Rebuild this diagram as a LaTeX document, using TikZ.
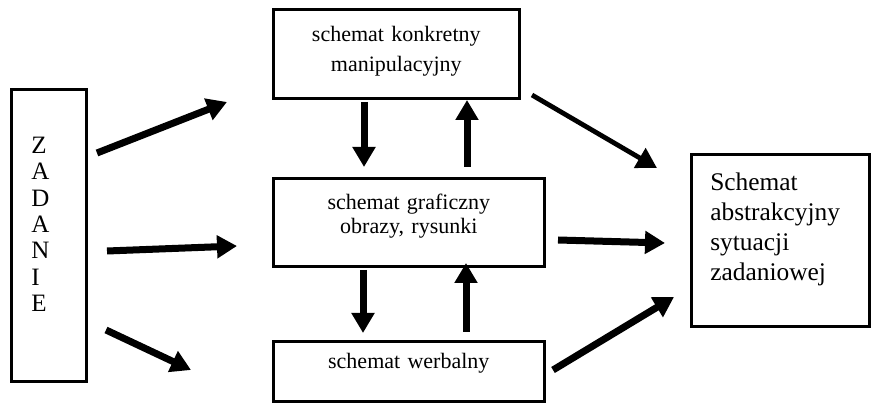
\documentclass[tikz,border=0pt]{standalone}
\usepackage{fontspec}
\setmainfont{Liberation Serif}
\usetikzlibrary{arrows.meta,positioning}

\begin{document}
\begin{tikzpicture}[x=0.5pt, y=-0.5pt,
  box/.style={draw, line width=1.3pt, inner sep=0pt, anchor=north west},
  arr/.style={line width=3.5pt, -{Triangle[width=11pt,length=10pt]}},
  thinarr/.style={line width=2.4pt, -{Triangle[width=11pt,length=10pt]}}]

\useasboundingbox (0,0) rectangle (877,405);

% Task
\node[box, align=left, text width=17.5pt, inner xsep=10pt, text height=32pt, text depth=114pt, font=\fontsize{12.5}{13.2}\selectfont] (zad) at (10,88) {Z\\A\\D\\A\\N\\I\\E};

% Schemes
\node[box, align=center, text width=123pt, text height=16pt, text depth=28.5pt, font=\fontsize{11}{15}\selectfont] (konk) at (272,8) {schemat konkretny\\manipulacyjny};
\node[box, align=center, text width=135.5pt, text height=15.5pt, text depth=28.5pt, font=\fontsize{11}{12}\selectfont] (graf) at (272,177) {schemat graficzny\\obrazy, rysunki};
\node[box, align=center, text width=135.5pt, text height=13.5pt, text depth=16.5pt, font=\fontsize{11}{13}\selectfont] (werb) at (272,340) {schemat werbalny};

% Result
\node[box, align=left, text width=70pt, inner xsep=9.5pt, text height=18pt, text depth=68pt, font=\fontsize{12.7}{15}\selectfont] (abs) at (690,153) {Schemat\\abstrakcyjny\\sytuacji\\zadaniowej};

% Arrow ends
\coordinate (zk-s) at (97,153);  \coordinate (zk-e) at (227,102);
\coordinate (zg-s) at (107,251); \coordinate (zg-e) at (237,246);
\coordinate (zw-s) at (106,330); \coordinate (zw-e) at (191,370);
\coordinate (kg-s) at (364,102); \coordinate (kg-e) at (364,167);
\coordinate (gk-s) at (467,167); \coordinate (gk-e) at (467,100);
\coordinate (gw-s) at (363,270); \coordinate (gw-e) at (363,333);
\coordinate (wg-s) at (466,332); \coordinate (wg-e) at (466,263);
\coordinate (ka-s) at (532,95);  \coordinate (ka-e) at (657,168);
\coordinate (ga-s) at (558,240); \coordinate (ga-e) at (665,243);
\coordinate (wa-s) at (553,370); \coordinate (wa-e) at (674,297);

% Arrows
\draw[arr] (zk-s) -- (zk-e);
\draw[arr] (zg-s) -- (zg-e);
\draw[arr] (zw-s) -- (zw-e);
\draw[arr] (kg-s) -- (kg-e);
\draw[arr] (gk-s) -- (gk-e);
\draw[arr] (gw-s) -- (gw-e);
\draw[arr] (wg-s) -- (wg-e);
\draw[thinarr] (ka-s) -- (ka-e);
\draw[arr] (ga-s) -- (ga-e);
\draw[arr] (wa-s) -- (wa-e);

\end{tikzpicture}
\end{document}
